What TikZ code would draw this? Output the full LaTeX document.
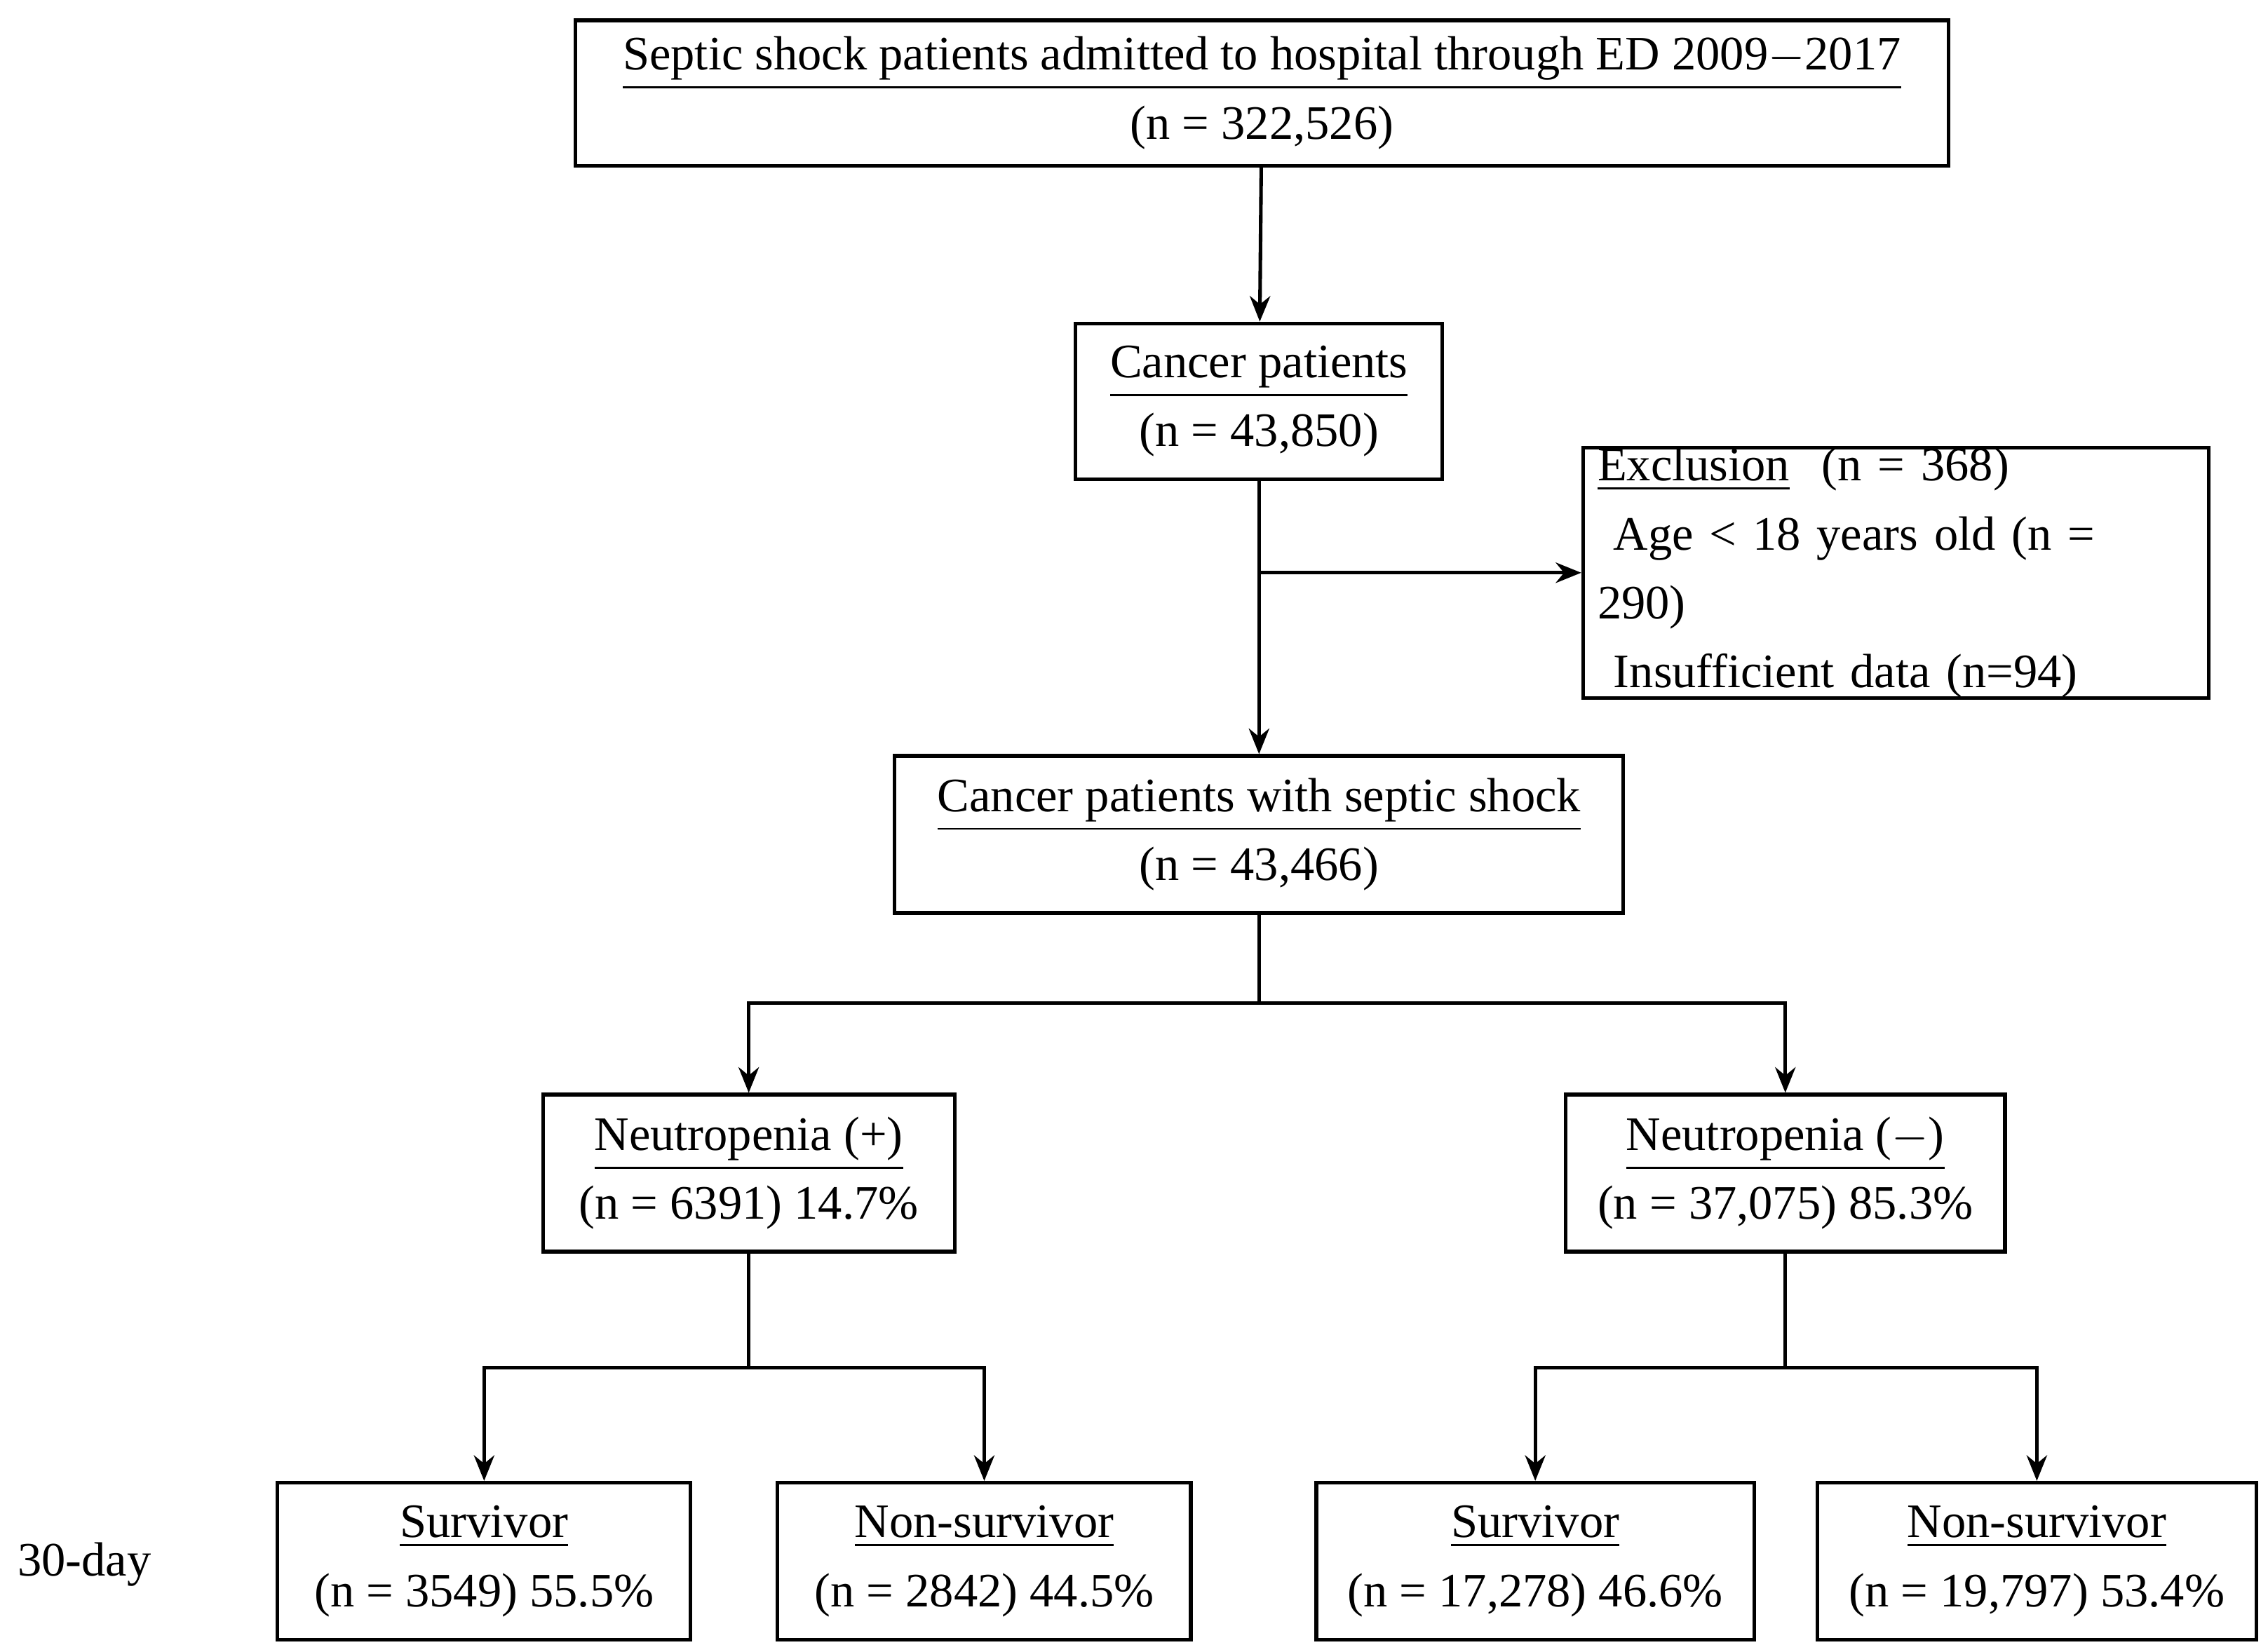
\documentclass[tikz,border=0pt]{standalone}
\usepackage{fontspec}
\setmainfont{Liberation Serif}
\usetikzlibrary{arrows.meta}
\tikzset{
  stagebox/.style={draw,line width=0.7pt,align=center,inner sep=0pt,font=\fontsize{9.4}{13.5}\selectfont},
  flow/.style={line width=0.7pt,-{Stealth[length=5pt,width=4pt]}},
  link/.style={line width=0.7pt}
}
\begin{document}
\begin{tikzpicture}[x=0.01cm,y=-0.01cm]
  \useasboundingbox (0,0) rectangle (1560,1136);

  \node[stagebox,minimum width=9.44cm,minimum height=1cm] (all) at (868,64)
    {\underline{Septic shock patients admitted to hospital through ED 2009$-$2017}\\(n = 322,526)};
  \node[stagebox,minimum width=2.52cm,minimum height=1.07cm] (cancer) at (866,276)
    {\underline{Cancer patients}\\(n = 43,850)};
  \node[stagebox,minimum width=4.3cm,minimum height=1.52cm,align=left,text width=4.1cm] (excl) at (1304,394)
    {\underline{Exclusion}\ \ (n = 368)\\\ Age < 18 years old (n = 290)\\\ Insufficient data (n=94)};
  \node[stagebox,minimum width=5.01cm,minimum height=1.08cm] (septic) at (866,574)
    {\underline{Cancer patients with septic shock}\\(n = 43,466)};
  \node[stagebox,minimum width=2.83cm,minimum height=1.08cm] (npos) at (515,807)
    {\underline{Neutropenia (+)}\\(n = 6391) 14.7\%};
  \node[stagebox,minimum width=3.02cm,minimum height=1.08cm] (nneg) at (1228,807)
    {\underline{Neutropenia ($-$)}\\(n = 37,075) 85.3\%};
  \node[stagebox,minimum width=2.84cm,minimum height=1.08cm] (surv1) at (333,1074)
    {\underline{Survivor}\\(n = 3549) 55.5\%};
  \node[stagebox,minimum width=2.84cm,minimum height=1.08cm] (non1) at (677,1074)
    {\underline{Non-survivor}\\(n = 2842) 44.5\%};
  \node[stagebox,minimum width=3.01cm,minimum height=1.08cm] (surv2) at (1056,1074)
    {\underline{Survivor}\\(n = 17,278) 46.6\%};
  \node[stagebox,minimum width=3.02cm,minimum height=1.08cm] (non2) at (1401,1074)
    {\underline{Non-survivor}\\(n = 19,797) 53.4\%};
  \node[font=\fontsize{9.4}{12}\selectfont] (day) at (58,1076) {30-day};

  \coordinate (ex) at (cancer.south |- excl.west);
  \coordinate (b0) at (866,690);
  \coordinate (b1) at (515,941);
  \coordinate (b2) at (1228,941);

  \draw[flow] (all) -- (cancer);
  \draw[flow] (cancer) -- (septic);
  \draw[flow] (ex) -- (excl.west);
  \draw[link] (septic) -- (b0);
  \draw[flow] (b0) -| (npos.north);
  \draw[flow] (b0) -| (nneg.north);
  \draw[link] (npos) -- (b1);
  \draw[flow] (b1) -| (surv1.north);
  \draw[flow] (b1) -| (non1.north);
  \draw[link] (nneg) -- (b2);
  \draw[flow] (b2) -| (surv2.north);
  \draw[flow] (b2) -| (non2.north);
\end{tikzpicture}
\end{document}
